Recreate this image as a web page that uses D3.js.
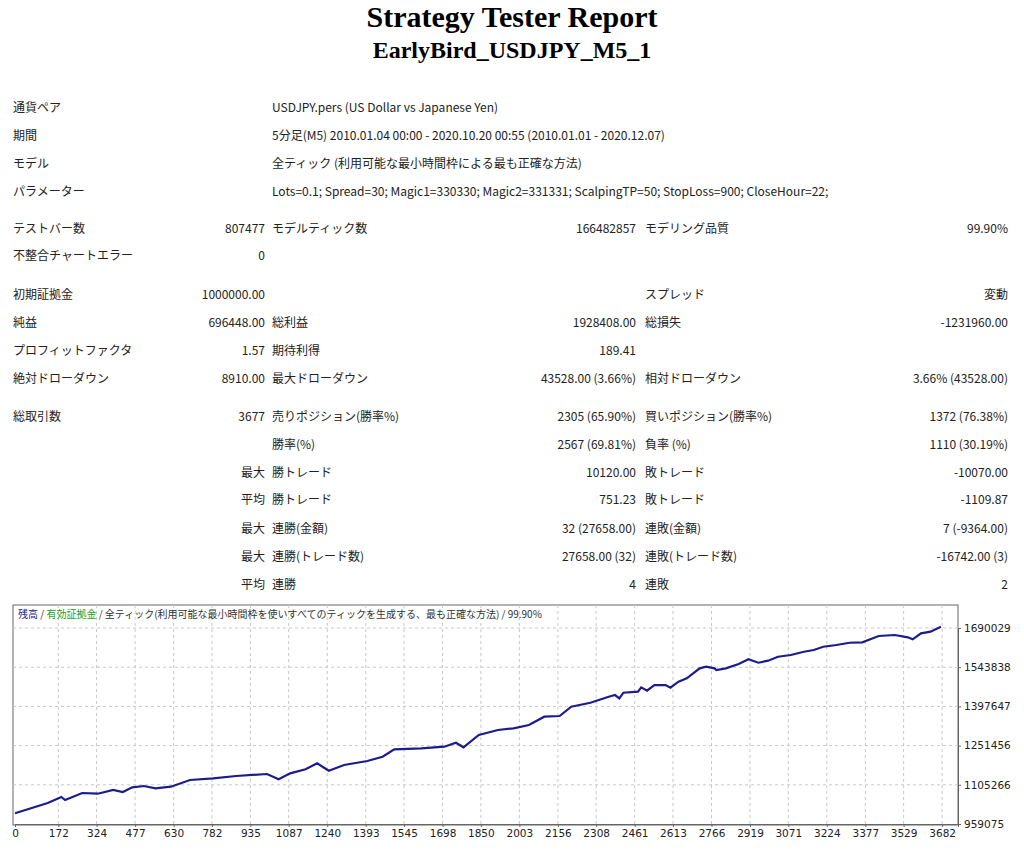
<!DOCTYPE html>
<html><head><meta charset="utf-8">
<script src="https://cdn.jsdelivr.net/npm/d3@7"></script>
<style>body{margin:0;background:#fff}svg{display:block}</style>
</head><body><svg id="c" width="1024" height="853"></svg>
<script>
const tradeIdx = [0,130,184,199,267,329,390,428,466,512,558,619,695,787,878,1001,1047,1093,1154,1200,1246,1307,1399,1460,1506,1613,1705,1751,1781,1842,1918,1980,2041,2102,2163,2209,2285,2358,2383,2400,2416,2474,2487,2510,2539,2584,2603,2635,2668,2719,2745,2778,2785,2823,2874,2913,2952,2991,3030,3081,3133,3172,3210,3262,3314,3365,3430,3494,3546,3565,3598,3636,3677];
const balance = [999000,1037400,1059800,1048600,1074700,1072000,1085900,1078400,1096000,1100800,1092100,1098200,1123200,1129500,1138100,1145500,1125800,1148100,1163000,1185400,1157800,1179100,1194000,1210000,1237600,1241300,1247300,1262200,1245100,1291000,1309600,1315900,1328300,1359200,1361800,1396500,1411400,1433800,1440100,1427800,1448700,1452400,1468800,1456400,1477400,1477000,1467300,1489700,1502300,1539700,1545600,1539700,1533400,1539700,1555700,1573300,1560600,1568100,1583000,1589300,1601600,1607900,1620200,1626500,1635100,1636600,1660100,1663900,1655300,1647800,1670200,1676200,1695000];
const yTicks = [959075,1105266,1251456,1397647,1543838,1690029];
const xTicks = [0,172,324,477,630,782,935,1087,1240,1393,1545,1698,1850,2003,2156,2308,2461,2613,2766,2919,3071,3224,3377,3529,3682];

// report rows: [label1, value1, label2, value2, label3, value3]
const rowsTop = [
 ["通貨ペア","USDJPY.pers (US Dollar vs Japanese Yen)"],
 ["期間","5分足(M5) 2010.01.04 00:00 - 2020.10.20 00:55 (2010.01.01 - 2020.12.07)"],
 ["モデル","全ティック (利用可能な最小時間枠による最も正確な方法)"],
 ["パラメーター","Lots=0.1; Spread=30; Magic1=330330; Magic2=331331; ScalpingTP=50; StopLoss=900; CloseHour=22;"]
];
const rowsGrid = [
 ["テストバー数","807477","モデルティック数","166482857","モデリング品質","99.90%"],
 ["不整合チャートエラー","0","","","",""],
 ["初期証拠金","1000000.00","","","スプレッド","変動"],
 ["純益","696448.00","総利益","1928408.00","総損失","-1231960.00"],
 ["プロフィットファクタ","1.57","期待利得","189.41","",""],
 ["絶対ドローダウン","8910.00","最大ドローダウン","43528.00 (3.66%)","相対ドローダウン","3.66% (43528.00)"],
 ["総取引数","3677","売りポジション(勝率%)","2305 (65.90%)","買いポジション(勝率%)","1372 (76.38%)"],
 ["","","勝率(%)","2567 (69.81%)","負率 (%)","1110 (30.19%)"],
 ["","最大","勝トレード","10120.00","敗トレード","-10070.00"],
 ["","平均","勝トレード","751.23","敗トレード","-1109.87"],
 ["","最大","連勝(金額)","32 (27658.00)","連敗(金額)","7 (-9364.00)"],
 ["","最大","連勝(トレード数)","27658.00 (32)","連敗(トレード数)","-16742.00 (3)"],
 ["","平均","連勝","4","連敗","2"]
];
const rowY = [229,256,295,323,351,379,417,445,473,500,529,557,585];
const topY = [108,136,164,192];

const svg = d3.select("#c");
const F = "'Noto Sans CJK JP','Noto Sans',sans-serif";
svg.append("text").attr("x",512).attr("y",27).attr("text-anchor","middle")
 .attr("font-family","'Liberation Serif',serif").attr("font-weight","bold").attr("font-size",30).text("Strategy Tester Report");
svg.append("text").attr("x",512).attr("y",58).attr("text-anchor","middle")
 .attr("font-family","'Liberation Serif',serif").attr("font-weight","bold").attr("font-size",24).text("EarlyBird_USDJPY_M5_1");

const T = (x,y,t,anchor) => svg.append("text").attr("x",x).attr("y",y+4).attr("text-anchor",anchor||"start")
 .attr("font-family",F).attr("font-size",12).attr("fill","#222").text(t);
rowsTop.forEach((r,i)=>{T(13,topY[i],r[0]);T(272,topY[i],r[1]);});
rowsGrid.forEach((r,i)=>{
 const y=rowY[i];
 T(13,y,r[0]); T(265,y,r[1],"end"); T(272,y,r[2]); T(636,y,r[3],"end"); T(645,y,r[4]); T(1008,y,r[5],"end");
});

// chart
const L=15,R=958,Tp=605,B=824;
const x = d3.scaleLinear().domain([0,3745]).range([L,R]);
const y = d3.scaleLinear().domain([959075,1690029]).range([B,628]);
const g = svg.append("g");
g.append("rect").attr("x",13).attr("y",Tp).attr("width",R-13).attr("height",B-Tp+1).attr("fill","#fff").attr("stroke","#666");
g.selectAll(".gy").data(yTicks.slice(1)).join("line").attr("x1",13).attr("x2",R).attr("y1",d=>y(d)).attr("y2",d=>y(d))
 .attr("stroke","#c8c8c8").attr("stroke-dasharray","3,3");
g.selectAll(".gx").data(xTicks.slice(1)).join("line").attr("y1",Tp).attr("y2",B).attr("x1",d=>x(d)).attr("x2",d=>x(d))
 .attr("stroke","#c8c8c8").attr("stroke-dasharray","3,3");
const yAx = svg.append("g").attr("transform",`translate(${R},0)`).call(d3.axisRight(y).tickValues(yTicks).tickSize(3).tickFormat(d3.format("d")));
const xAx = svg.append("g").attr("transform",`translate(0,${B})`).call(d3.axisBottom(x).tickValues(xTicks).tickSize(3).tickFormat(d3.format("d")));
[yAx,xAx].forEach(a=>{a.select(".domain").attr("stroke","#666");a.selectAll("line").attr("stroke","#666");
 a.selectAll("text").attr("font-family","'DejaVu Sans',sans-serif").attr("font-size",10.5).attr("fill","#222");});
const line = d3.line().x((d,i)=>x(tradeIdx[i])).y(d=>y(d));
g.append("path").datum(balance).attr("d",line).attr("fill","none").attr("stroke","#1c1c8c").attr("stroke-width",2.2);

const lg = svg.append("text").attr("x",18).attr("y",618).attr("font-family",F).attr("font-size",10);
lg.append("tspan").attr("fill","#1c1c8c").text("残高");
lg.append("tspan").attr("fill","#333").text(" / ");
lg.append("tspan").attr("fill","#22a022").text("有効証拠金");
lg.append("tspan").attr("fill","#333").text(" / 全ティック(利用可能な最小時間枠を使いすべてのティックを生成する、最も正確な方法) / 99.90%");
</script></body></html>
